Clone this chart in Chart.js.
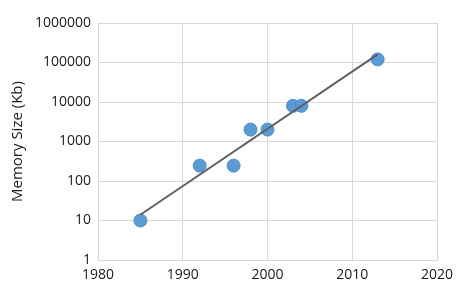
<!DOCTYPE html>
<html>
<head>
<meta charset="utf-8">
<script src="https://cdn.jsdelivr.net/npm/chart.js@4"></script>
<style>
  html, body { margin: 0; padding: 0; background: #fff; }
</style>
</head>
<body>
<canvas id="memChart" width="466" height="291"></canvas>
<script>
// data
var years = [1985, 1992, 1996, 1998, 2000, 2003, 2004, 2013];
var memoryKb = [10, 245, 245, 2000, 2000, 8000, 8000, 120000];
var xTicks = [1980, 1990, 2000, 2010, 2020];
var yTicks = [1, 10, 100, 1000, 10000, 100000, 1000000];

// exponential trendline (least squares on log10), like the spreadsheet one
var lx = years, ly = memoryKb.map(function (v) { return Math.log10(v); });
var n = lx.length, mx = 0, my = 0;
for (var i = 0; i < n; i++) { mx += lx[i] / n; my += ly[i] / n; }
var sxy = 0, sxx = 0;
for (var i = 0; i < n; i++) { sxy += (lx[i] - mx) * (ly[i] - my); sxx += (lx[i] - mx) * (lx[i] - mx); }
var slope = sxy / sxx;
function trend(x) { return Math.pow(10, my + slope * (x - mx)); }
var x0 = years[0], x1 = years[years.length - 1];

var gridCol = '#d9d9d9';
var font = { family: "'Open Sans', 'Liberation Sans', sans-serif", size: 14 };

new Chart(document.getElementById('memChart'), {
  type: 'scatter',
  data: {
    datasets: [{
      type: 'line',
      data: [{ x: x0, y: trend(x0) }, { x: x1, y: trend(x1) }],
      borderColor: '#606060',
      borderWidth: 2,
      pointRadius: 0,
      fill: false,
      order: 1
    }, {
      data: years.map(function (y, k) { return { x: y, y: memoryKb[k] }; }),
      backgroundColor: '#5b9bd5',
      borderColor: '#4d8fcf',
      borderWidth: 1,
      pointRadius: 6.5,
      order: 2
    }]
  },
  options: {
    responsive: false,
    animation: false,
    layout: { padding: { top: 23, right: 29, left: 0, bottom: 0 } },
    plugins: { legend: { display: false }, tooltip: { enabled: false } },
    scales: {
      x: {
        type: 'linear',
        min: 1980, max: 2020,
        afterBuildTicks: function (s) { s.ticks = xTicks.map(function (v) { return { value: v }; }); },
        afterFit: function (s) { s.height = 31; },
        grid: { color: gridCol, drawTicks: false },
        border: { color: gridCol },
        ticks: { color: '#1a1a1a', font: font, padding: 7, maxRotation: 0,
          callback: function (v) { return String(v); } }
      },
      y: {
        type: 'logarithmic',
        min: 1, max: 1000000,
        afterBuildTicks: function (s) { s.ticks = yTicks.map(function (v) { return { value: v }; }); },
        afterFit: function (s) { s.width = 98; },
        grid: { color: gridCol, drawTicks: false },
        border: { color: gridCol },
        ticks: { color: '#1a1a1a', font: font, padding: 7,
          callback: function (v) { return String(v); } },
        title: {
          display: true,
          text: 'Memory Size (Kb)',
          color: '#1a1a1a',
          font: { family: font.family, size: 15 },
          padding: { top: 9, bottom: 0 }
        }
      }
    }
  }
});
</script>
</body>
</html>
